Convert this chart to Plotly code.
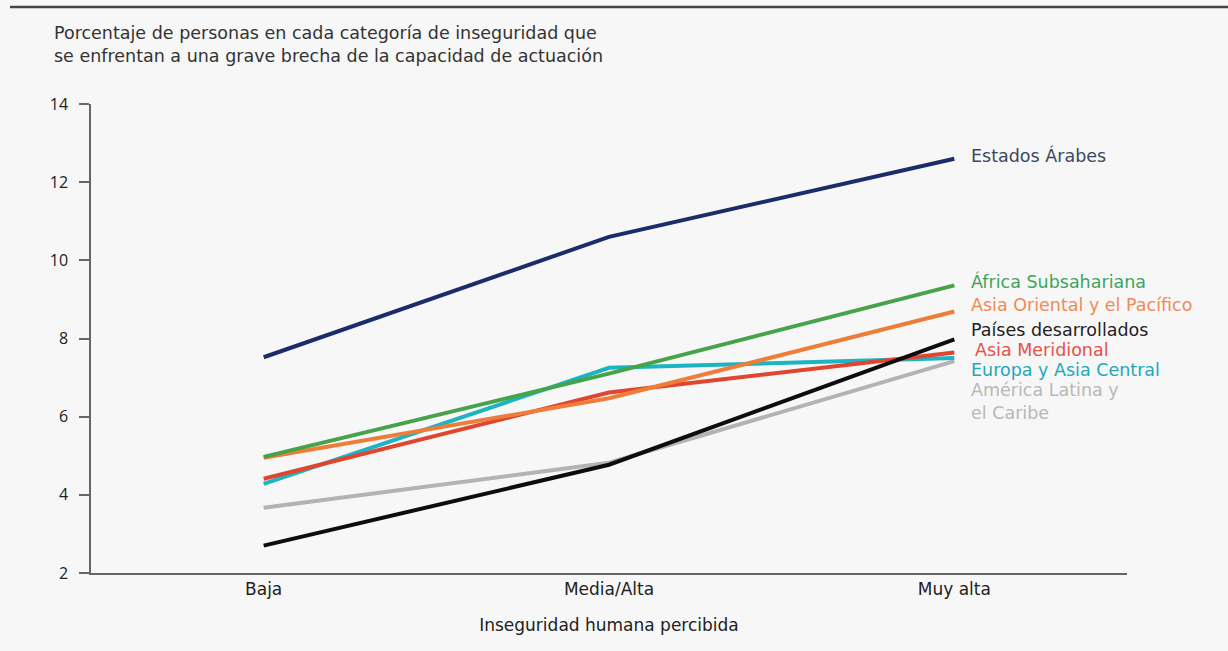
import plotly.graph_objects as go

categories = ["Baja", "Media/Alta", "Muy alta"]

series_names = [
    "América Latina y<br>el Caribe",
    "Europa y Asia Central",
    "Asia Meridional",
    "Asia Oriental y el Pacífico",
    "África Subsahariana",
    "Países desarrollados",
    "Estados Árabes",
]
values = {
    "Estados Árabes": [7.52, 10.6, 12.6],
    "África Subsahariana": [4.97, 7.1, 9.36],
    "Asia Oriental y el Pacífico": [4.95, 6.47, 8.69],
    "Países desarrollados": [2.7, 4.77, 7.98],
    "Asia Meridional": [4.41, 6.62, 7.64],
    "Europa y Asia Central": [4.28, 7.25, 7.5],
    "América Latina y<br>el Caribe": [3.67, 4.82, 7.42],
}
line_colors = {
    "Estados Árabes": "#1c2c6b",
    "África Subsahariana": "#46a349",
    "Asia Oriental y el Pacífico": "#ef7d3a",
    "Países desarrollados": "#0d0d0d",
    "Asia Meridional": "#e0452f",
    "Europa y Asia Central": "#1cb3c2",
    "América Latina y<br>el Caribe": "#b3b3b3",
}
label_colors = {
    "Estados Árabes": "#3d4763",
    "África Subsahariana": "#3fa45e",
    "Asia Oriental y el Pacífico": "#f08a55",
    "Países desarrollados": "#222222",
    "Asia Meridional": "#e4524a",
    "Europa y Asia Central": "#23a8b9",
    "América Latina y<br>el Caribe": "#b8b8b8",
}
label_y = {
    "Estados Árabes": 12.67,
    "África Subsahariana": 9.47,
    "Asia Oriental y el Pacífico": 8.86,
    "Países desarrollados": 8.21,
    "Asia Meridional": 7.70,
    "Europa y Asia Central": 7.19,
    "América Latina y<br>el Caribe": 6.40,
}
label_shift = {"Asia Meridional": 20}

yticks = [2, 4, 6, 8, 10, 12, 14]

FONT = "'DejaVu Sans', sans-serif"
TICKFONT = "'Open Sans', sans-serif"

fig = go.Figure()
for name in series_names:
    fig.add_trace(go.Scatter(
        x=[0, 1, 2], y=values[name], mode="lines",
        line=dict(color=line_colors[name], width=4),
        showlegend=False, hoverinfo="skip",
    ))
    fig.add_annotation(
        x=2, y=label_y[name], xref="x", yref="y",
        text=name, showarrow=False, xanchor="left", yanchor="middle",
        xshift=label_shift.get(name, 16), align="left", borderpad=0,
        font=dict(family=FONT, size=17.5, color=label_colors[name]),
    )

fig.add_annotation(
    xref="paper", yref="paper", x=-0.0375, y=1.1767, xanchor="left", yanchor="top",
    text="Porcentaje de personas en cada categoría de inseguridad que<br>se enfrentan a una grave brecha de la capacidad de actuación",
    showarrow=False, align="left",
    font=dict(family=FONT, size=17.5, color="#333333"),
)

# top rule
fig.add_shape(type="line", xref="paper", yref="paper",
              x0=-0.0782, x1=1.0975, y0=1.2068, y1=1.2068,
              line=dict(color="#444444", width=2.5))

fig.update_layout(
    width=1228, height=651,
    margin=dict(l=91, r=101, t=104, b=78),
    paper_bgcolor="#f7f7f7", plot_bgcolor="#f7f7f7",
    font=dict(family=FONT, color="#333333"),
    xaxis=dict(
        tickmode="array", tickvals=[0, 1, 2], ticktext=categories,
        range=[-0.5, 2.5], showgrid=False, zeroline=False,
        showline=True, linecolor="#666666", linewidth=2, ticks="",
        tickfont=dict(family=FONT, size=17, color="#222222"),
        title=dict(text="Inseguridad humana percibida", standoff=21,
                   font=dict(family=FONT, size=17, color="#222222")),
    ),
    yaxis=dict(
        range=[2, 14], tickvals=yticks, showgrid=False, zeroline=False,
        showline=True, linecolor="#666666", linewidth=1.5,
        ticks="outside", ticklen=10, tickcolor="#666666", tickwidth=1.5,
        ticklabelstandoff=8,
        tickfont=dict(family=TICKFONT, size=16, color="#222222"),
    ),
)

fig.write_html(
    "out.html",
    config={"displayModeBar": False},
    post_script="document.body.style.margin='0';document.body.style.background='#f7f7f7';",
)
